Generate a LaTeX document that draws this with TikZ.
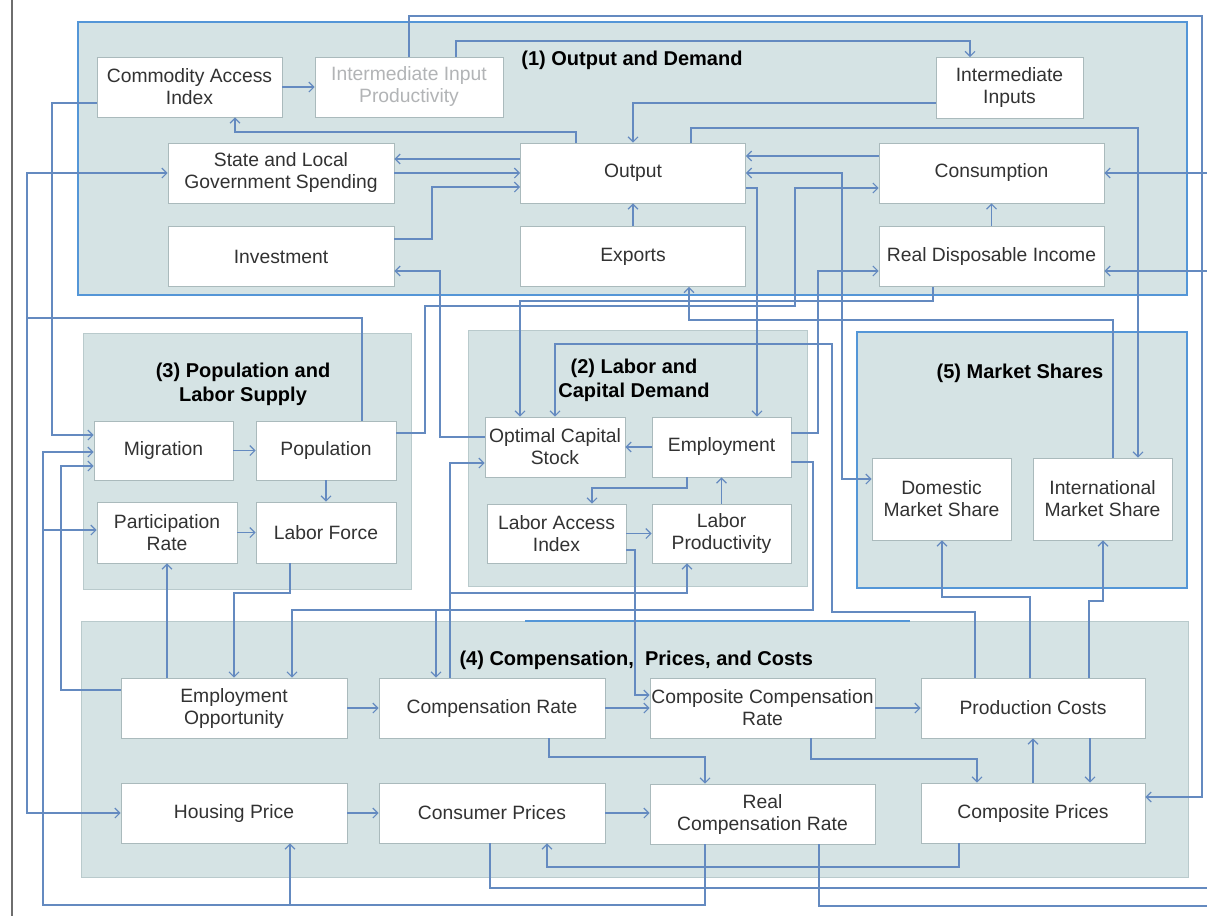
\documentclass[tikz,border=0pt]{standalone}
\usepackage{fontspec}
\setmainfont{Liberation Sans}
\usetikzlibrary{arrows.meta}
\definecolor{grpfill}{RGB}{213,227,228}
\definecolor{grpedge}{RGB}{185,202,204}
\definecolor{blueedge}{RGB}{84,150,215}
\definecolor{boxedge}{RGB}{170,186,188}
\definecolor{wirecol}{RGB}{100,138,192}
\definecolor{txt}{RGB}{50,50,50}
\definecolor{faint}{RGB}{178,180,182}
\definecolor{pageedge}{RGB}{110,110,110}

\begin{document}
\begin{tikzpicture}[x=1pt,y=-1pt,
  grp/.style={fill=grpfill,draw=grpedge,line width=1pt,inner sep=0pt},
  bgrp/.style={fill=grpfill,draw=blueedge,line width=2.2pt,inner sep=0pt},
  box/.style={draw=boxedge,fill=white,line width=0.9pt,inner sep=0pt,align=center,
    text=txt,font=\fontsize{19.3}{22}\selectfont},
  wide/.style={box,minimum width=225,minimum height=60},
  narrow/.style={box,minimum width=140,minimum height=60},
  title/.style={font=\bfseries\fontsize{20}{24}\selectfont,align=center,text=black},
  wire/.style={draw=wirecol,line width=1.1pt},
  arr/.style={wire,-{Straight Barb[length=5pt,width=10pt]}},
  arrb/.style={wire,{Straight Barb[length=5pt,width=10pt]}-{Straight Barb[length=5pt,width=10pt]}},
]
\useasboundingbox (0,0) rectangle (1207,916);
\fill[white] (0,0) rectangle (1207,916);
\draw[pageedge,line width=1.5pt] (12,0) -- (12,916);

% ---- blocks ----
\node[bgrp,minimum width=1109,minimum height=273] (g1) at (632.5,158.5) {};
\node[grp,minimum width=328,minimum height=256] (g3) at (247,461) {};
\node[grp,minimum width=339,minimum height=256] (g2) at (637.5,458) {};
\node[bgrp,minimum width=330,minimum height=256] (g5) at (1022,460) {};
\node[grp,minimum width=1107,minimum height=256] (g4) at (634.5,749) {};
\draw[blueedge,line width=2pt] (525,621) -- (910,621);

\node[title] (t1) at (632,60) {(1) Output and Demand};
\node[title] (t3) at (243,384) {(3) Population and\\Labor Supply};
\node[title] (t2) at (634,380) {(2) Labor and\\Capital Demand};
\node[title] (t5) at (1020,373) {(5) Market Shares};
\node[title,anchor=west] (t4) at (456,660) {(4) Compensation,\ \ Prices, and Costs};

% ---- (1) output and demand ----
\node[box,minimum width=185,minimum height=60] (cai) at (189.5,87) {Commodity Access\\Index};
\node[box,minimum width=188,minimum height=60,text=faint] (iip) at (409,87) {Intermediate Input\\Productivity};
\node[box,minimum width=147,minimum height=61] (ii) at (1009.5,88) {Intermediate\\Inputs};
\node[wide,minimum width=226] (slg) at (281,173) {State and Local\\Government Spending};
\node[wide] (out) at (633,173) {Output};
\node[wide] (con) at (991.5,173) {Consumption};
\node[wide,minimum width=226] (inv) at (281,256.5) {Investment};
\node[wide] (exp) at (633,256.5) {Exports};
\node[wide] (rdi) at (991.5,256.5) {Real Disposable Income};

% ---- (3) population and labor supply ----
\node[box,minimum width=139,minimum height=59] (mig) at (163.5,450.5) {Migration};
\node[narrow,minimum height=59] (pop) at (326,450.5) {Population};
\node[narrow,minimum height=61] (pr) at (167,532.5) {Participation\\Rate};
\node[narrow,minimum height=61] (lf) at (326,532.5) {Labor Force};

% ---- (2) labor and capital demand ----
\node[narrow] (ocs) at (555,447) {Optimal Capital\\Stock};
\node[box,minimum width=139,minimum height=60] (emp) at (721.5,447) {Employment};
\node[box,minimum width=139,minimum height=59] (lai) at (556.5,533.5) {Labor Access\\Index};
\node[box,minimum width=139,minimum height=59] (lp) at (721.5,533.5) {Labor\\Productivity};

% ---- (5) market shares ----
\node[box,minimum width=139,minimum height=82] (dms) at (941.5,499) {Domestic\\Market Share};
\node[box,minimum width=139,minimum height=82] (ims) at (1102.5,499) {International\\Market Share};

% ---- (4) compensation, prices, and costs ----
\node[wide,minimum width=226] (eo) at (234,708) {Employment\\Opportunity};
\node[wide,minimum width=226] (cr) at (492,708) {Compensation Rate};
\node[wide] (ccr) at (762.5,708) {Composite Compensation\\Rate};
\node[wide,minimum width=224] (pc) at (1033,708) {Production Costs};
\node[wide,minimum width=226] (hp) at (234,813) {Housing Price};
\node[wide,minimum width=226] (cp) at (492,813) {Consumer Prices};
\node[wide] (rcr) at (762.5,814) {Real\\Compensation Rate};
\node[wide,minimum width=224] (comp) at (1033,813) {Composite Prices};

% ---- junctions and loose ends ----
\coordinate (popjoin) at (27,318);
\coordinate (rcrbus) at (43,905);
\coordinate (prtap) at (43,530);
\coordinate (hptap) at (290,905);
\coordinate (crtap) at (436,610);
\coordinate (lptap) at (450,593);
\coordinate (eastA) at (1207,888);
\coordinate (eastB) at (1207,906);
\coordinate (eastC) at (1207,173);
\coordinate (eastD) at (1207,271);

% ---- links inside block (1) ----
\draw[arr] (cai) -- (iip);
\draw[arr] (iip.north) -- (409,16) -- (1202,16) |- (comp.east |- 0,797);
\draw[arr] (iip.north -| 456,0) |- (970,41) -- (ii.north -| 970,0);
\draw[arr] (ii.west |- 0,103) -| (out.north);
\draw[arr] (out.north -| 576,0) |- (235,132) -- (cai.south -| 235,0);
\draw[arr] (out.west |- 0,159) -- (slg.east |- 0,159);
\draw[arr] (slg.east) -- (out.west);
\draw[arr] (inv.east |- 0,239) -| (432,187) -- (out.west |- 0,187);
\draw[arr] (exp) -- (out);
\draw[arr] (con.west |- 0,156) -- (out.east |- 0,156);
\draw[arr] (rdi) -- (con);
\draw[arr] (out.north -| 691,0) |- (1138,128) -- (ims.north -| 1138,0);
\draw[arrb] (out.east |- 0,173) -| (842,479) -- (dms.west |- 0,479);
\draw[arr] (out.east |- 0,188) -| (emp.north -| 757,0);
\draw[arr] (emp.east |- 0,433) -| (818,271) -- (rdi.west |- 0,271);
\draw[arr] (pop.east |- 0,433) -| (425,306) -| (795,188) -- (con.west |- 0,188);
\draw[arr] (rdi.south -| 933,0) |- (520,301) -- (ocs.north -| 520,0);
\draw[arr] (ims.north -| 1113,0) |- (689,320) -- (exp.south -| 689,0);
\draw[arr] (ocs.west |- 0,437) -| (440,271) -- (inv.east |- 0,271);
\draw[arr] (eastC) -- (con.east |- eastC);
\draw[arr] (eastD) -- (rdi.east |- eastD);

% ---- population and labor supply ----
\draw[arr] (pop.north -| 362,0) |- (popjoin) |- (slg.west);
\draw[arr] (popjoin) |- (hp.west);
\draw[arr] (cai.west |- 0,103) -| (52,435) -- (mig.west |- 0,435);
\draw[arr] (rcr.south -| 705,0) |- (rcrbus) |- (mig.west |- 0,452);
\draw[arr] (prtap) -- (pr.west |- prtap);
\draw[arr] (hptap) -- (hp.south -| hptap);
\draw[arr] (eo.west |- 0,690) -| (61,466) -- (mig.west |- 0,466);
\draw[arr] (mig) -- (pop);
\draw[arr] (pop) -- (lf);
\draw[arr] (pr) -- (lf);
\draw[arr] (eo.north -| 167,0) -- (pr.south -| 167,0);
\draw[arr] (lf.south -| 290,0) |- (234,593) -- (eo.north -| 234,0);

% ---- labor and capital demand ----
\draw[arr] (emp.east |- 0,462) -| (813,610) -| (eo.north -| 292,0);
\draw[arr] (crtap) -- (cr.north -| crtap);
\draw[arr] (cr.north -| 450,0) |- (ocs.west |- 0,463);
\draw[arr] (lptap) -| (lp.south -| 687,0);
\draw[arr] (emp.south -| 687,0) |- (592,488) -- (lai.north -| 592,0);
\draw[arr] (emp) -- (ocs);
\draw[arr] (lai) -- (lp);
\draw[arr] (lp) -- (emp);
\draw[arr] (lai.east |- 0,550) -| (635,695) -- (ccr.west |- 0,695);
\draw[arr] (pc.north -| 975,0) |- (832,612) |- (555,344) -- (ocs.north);

% ---- market shares ----
\draw[arr] (pc.north -| 1030,0) |- (942,597) -- (dms.south -| 942,0);
\draw[arr] (pc.north -| 1089,0) |- (1103,601) -- (ims.south -| 1103,0);

% ---- compensation, prices, and costs ----
\draw[arr] (eo) -- (cr);
\draw[arr] (cr) -- (ccr);
\draw[arr] (ccr) -- (pc);
\draw[arr] (cr.south -| 549,0) |- (705,757) -- (rcr.north -| 705,0);
\draw[arr] (ccr.south -| 811,0) |- (977,759) -- (comp.north -| 977,0);
\draw[arr] (comp.north -| 1033,0) -- (pc.south -| 1033,0);
\draw[arr] (pc.south -| 1090,0) -- (comp.north -| 1090,0);
\draw[arr] (comp.south -| 959,0) |- (547,867) -- (cp.south -| 547,0);
\draw[arr] (hp) -- (cp);
\draw[arr] (cp) -- (rcr.west |- cp);
\draw[wire] (cp.south -| 490,0) |- (eastA);
\draw[wire] (rcr.south -| 819,0) |- (eastB);

\end{tikzpicture}
\end{document}
